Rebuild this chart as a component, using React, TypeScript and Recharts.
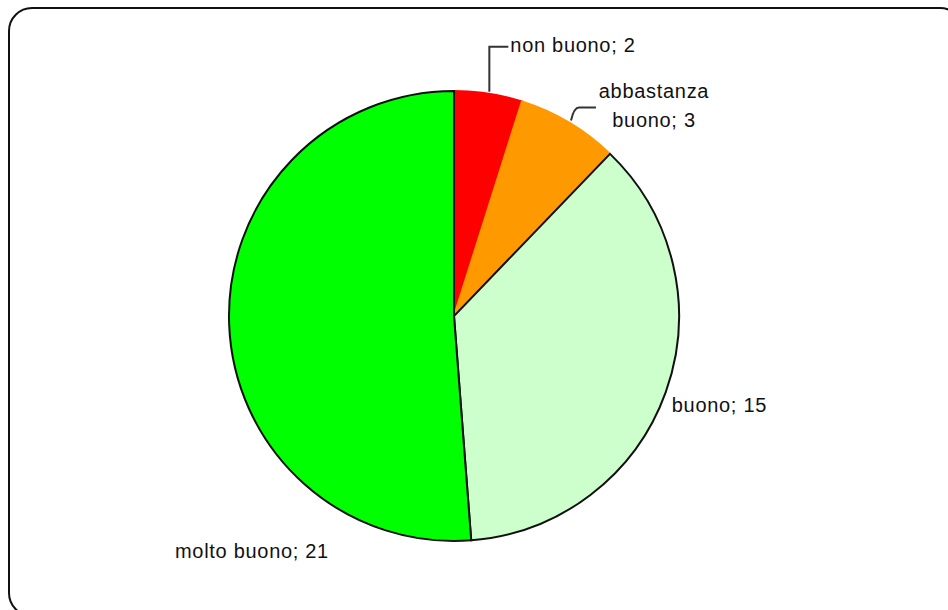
import React from 'react';
import { PieChart, Pie, Cell } from 'recharts';

const categories = ['non buono', 'abbastanza buono', 'buono', 'molto buono'];
const values = [2, 3, 15, 21];
const colors = ['#FF0000', '#FF9900', '#CCFFCC', '#00FF00'];
const strokes = ['#FF0000', '#FF9900', '#111111', '#111111'];

const data = categories.map((name, i) => ({ name, value: values[i] }));

const RAD = Math.PI / 180;
const FONT = '"Liberation Sans", Arial, sans-serif';
const textStyle = { fontFamily: FONT, fontSize: 20, letterSpacing: 0.7, fill: '#111' };

const renderLabel = (props: any) => {
  const { cx, cy, midAngle, outerRadius, index, name, value } = props;
  const px = cx + outerRadius * Math.cos(midAngle * RAD);
  const py = cy - outerRadius * Math.sin(midAngle * RAD);
  const lineStyle = { fill: 'none', stroke: '#333', strokeWidth: 2 };
  if (index === 0) {
    return (
      <g key={`l${index}`}>
        <path d={`M${px + 1},${py - 2} V${py - 47} H${px + 20}`} style={lineStyle} />
        <text x={px + 22} y={py - 41.5} style={textStyle}>{`${name}; ${value}`}</text>
      </g>
    );
  }
  if (index === 1) {
    const parts = name.split(' ');
    return (
      <g key={`l${index}`}>
        <path d={`M${px + 2},${py - 2} Q${px + 5},${py - 15} ${px + 10},${py - 15} H${px + 27}`} style={lineStyle} />
        <text x={px + 85} y={py - 25} textAnchor="middle" style={textStyle}>{parts[0]}</text>
        <text x={px + 85} y={py + 4.5} textAnchor="middle" style={textStyle}>{`${parts[1]}; ${value}`}</text>
      </g>
    );
  }
  if (index === 2) {
    return (
      <text key={`l${index}`} x={px + 6} y={py + 20} style={textStyle}>{`${name}; ${value}`}</text>
    );
  }
  return (
    <text key={`l${index}`} x={cx - 279} y={cy + 242} style={textStyle}>{`${name}; ${value}`}</text>
  );
};

export default function App() {
  return (
    <div style={{ position: 'relative', width: 948, height: 610, overflow: 'hidden', background: '#fff' }}>
      <style>{'body{margin:0}'}</style>
      <div
        style={{
          position: 'absolute',
          left: 8,
          top: 7,
          width: 956,
          height: 610,
          border: '2px solid #111',
          borderRadius: 24,
          boxSizing: 'border-box',
        }}
      />
      <div style={{ position: 'absolute', left: 0, top: 0 }}>
        <PieChart width={948} height={610} margin={{ top: 0, right: 0, bottom: 0, left: 0 }}>
          <Pie
            data={data}
            dataKey="value"
            nameKey="name"
            cx={454}
            cy={316}
            outerRadius={225}
            startAngle={90}
            endAngle={-270}
            labelLine={false}
            label={renderLabel}
            isAnimationActive={false}
          >
            {data.map((d, i) => (
              <Cell key={d.name} fill={colors[i]} stroke={strokes[i]} strokeWidth={2} />
            ))}
          </Pie>
        </PieChart>
      </div>
    </div>
  );
}
